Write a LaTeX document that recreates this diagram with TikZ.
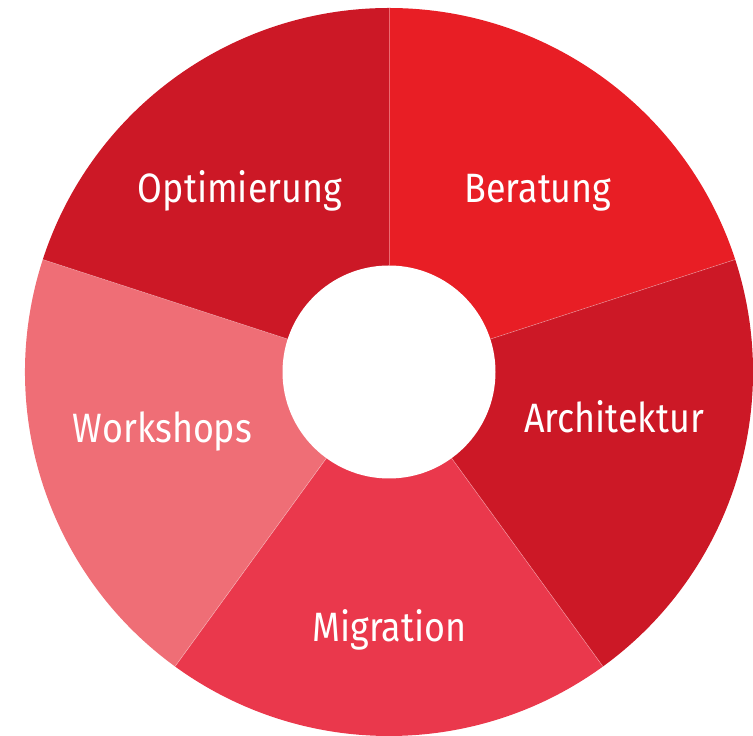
\documentclass[tikz,border=0pt]{standalone}
\usepackage{fontspec}
\usepackage{graphicx}
\setmainfont{Fira Sans}
\definecolor{cBer}{RGB}{232,30,37}
\definecolor{cDark}{RGB}{204,24,38}
\definecolor{cMig}{RGB}{234,56,76}
\definecolor{cWork}{RGB}{239,110,118}
\newcommand{\lbltext}[1]{\scalebox{0.875}[1]{#1}}
\tikzset{
  lbl/.style={text=white, anchor=base, inner sep=0pt, font=\fontsize{41}{41}\selectfont},
  sep/.style={white, opacity=0.35, line width=0.6pt}
}
\begin{document}
\begin{tikzpicture}[x=1pt,y=1pt]
\useasboundingbox (0,0) rectangle (753,736);
\coordinate (C) at (389,364);
\def\Ro{364}
\def\Ri{106.5}
% sectors
\fill[cBer]  (C) -- ++(90:\Ro) arc[start angle=90, end angle=18, radius=\Ro] -- cycle;
\fill[cDark] (C) -- ++(18:\Ro) arc[start angle=18, end angle=-54, radius=\Ro] -- cycle;
\fill[cMig]  (C) -- ++(-54:\Ro) arc[start angle=-54, end angle=-126, radius=\Ro] -- cycle;
\fill[cWork] (C) -- ++(-126:\Ro) arc[start angle=-126, end angle=-198, radius=\Ro] -- cycle;
\fill[cDark] (C) -- ++(162:\Ro) arc[start angle=162, end angle=90, radius=\Ro] -- cycle;
% separators
\foreach \a in {90,18,-54,-126,162}{
  \draw[sep] ([shift={(\a:\Ri)}]C) -- ([shift={(\a:\Ro)}]C);
}
% hole
\fill[white] (C) circle[radius=\Ri];
% labels
\node[lbl] (opt) at (240,533) {\lbltext{Optimierung}};
\node[lbl] (ber) at (538,533) {\lbltext{Beratung}};
\node[lbl] (arc) at (614,303) {\lbltext{Architektur}};
\node[lbl] (wor) at (162.5,293) {\lbltext{Workshops}};
\node[lbl] (mig) at (389.5,94) {\lbltext{Migration}};
\end{tikzpicture}
\end{document}
